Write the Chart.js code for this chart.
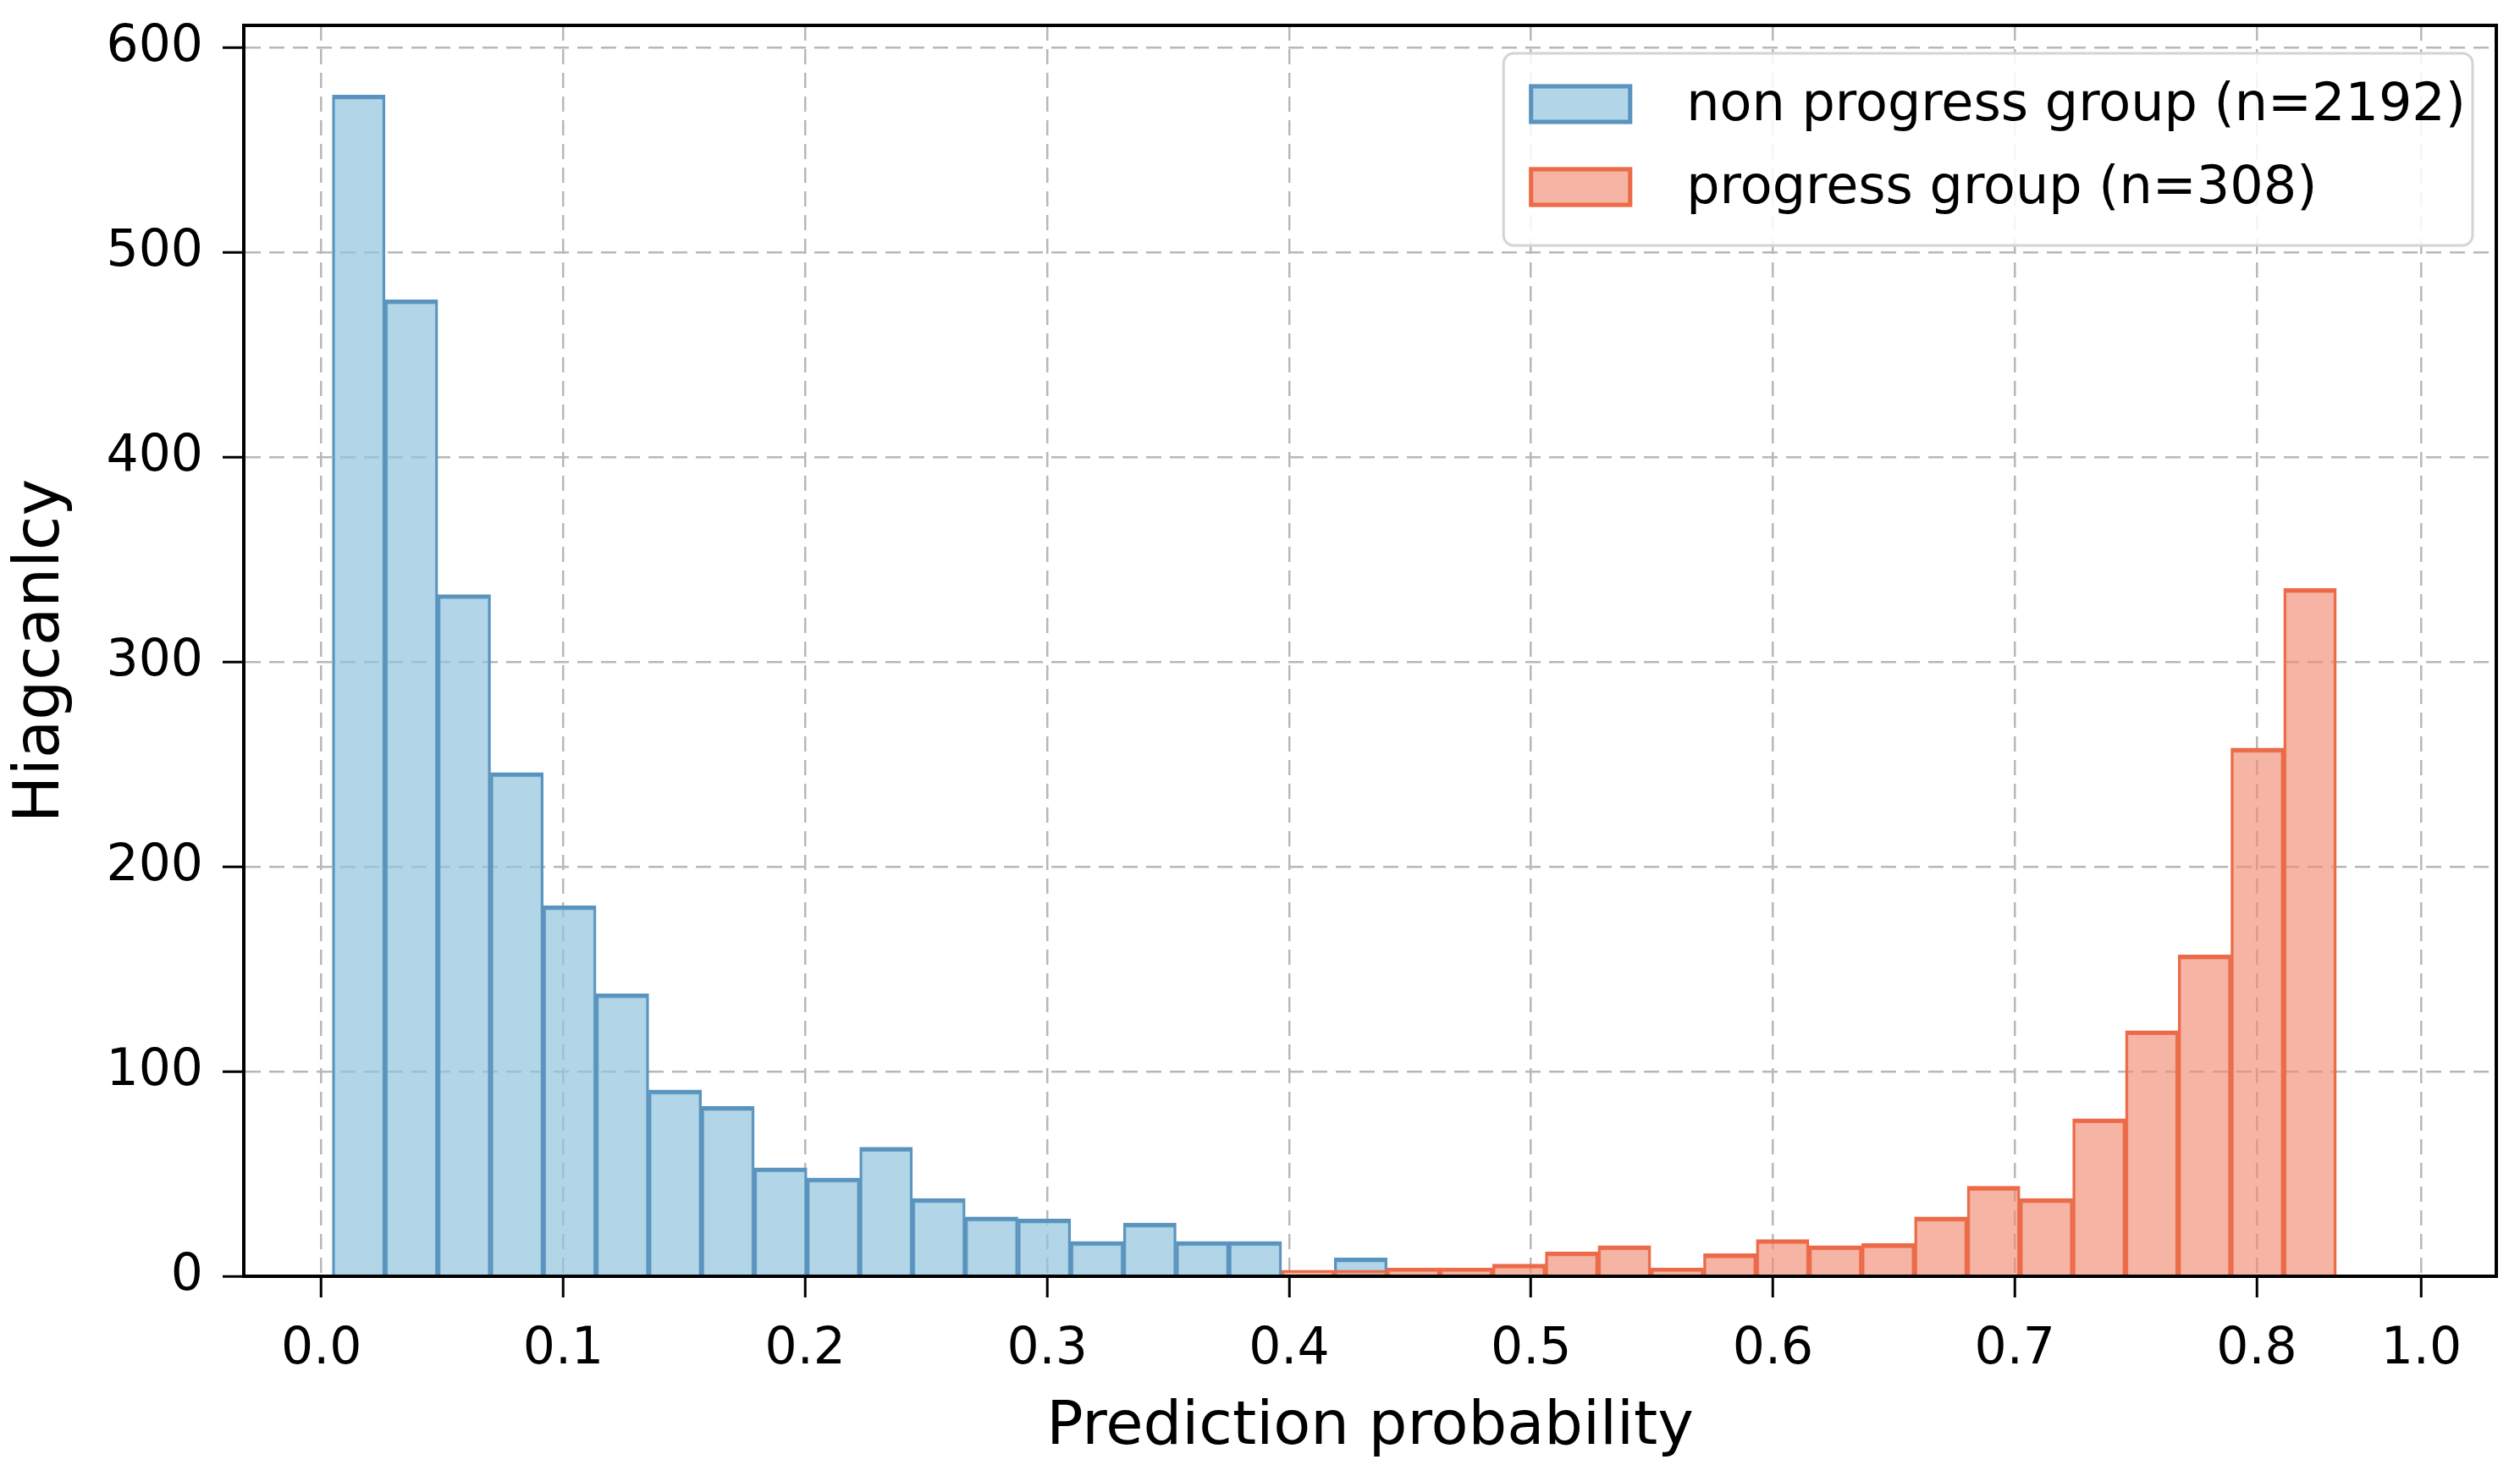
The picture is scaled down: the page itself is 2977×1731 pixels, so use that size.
<!DOCTYPE html>
<html>
<head>
<meta charset="utf-8">
<script src="https://cdn.jsdelivr.net/npm/chart.js@4.4.0/dist/chart.umd.min.js"></script>
<style>
  html, body { margin: 0; padding: 0; background: #fff; }
  canvas { display: block; }
</style>
</head>
<body>
<canvas id="hist" width="2977" height="1731" style="width:2977px;height:1731px"></canvas>
<script>
// shared histogram bins
const binStart = 0.0045;
const binWidth = 0.0218;

// counts per bin
const nonProgressCounts = [577, 477, 333, 246, 181, 138, 91, 83, 53, 48, 63, 38, 29, 28, 17, 26, 17, 17, 0, 9,
  0, 0, 0, 0, 0, 0, 0, 0, 0, 0, 0, 0, 0, 0, 0, 0, 0, 0];
const progressCounts = [0, 0, 0, 0, 0, 0, 0, 0, 0, 0, 0, 0, 0, 0, 0, 0, 0, 0, 3, 3,
  4, 4, 6, 12, 15, 4, 11, 18, 15, 16, 29, 44, 38, 77, 120, 157, 258, 336];

const seriesLabels = ['non progress group (n=2192)', 'progress group (n=308)'];

// the last tick label sits where the picture puts it
const xTickValues = [0, 0.1, 0.2, 0.3, 0.4, 0.5, 0.6, 0.7, 0.8, 0.868];
const xTickLabels = ['0.0', '0.1', '0.2', '0.3', '0.4', '0.5', '0.6', '0.7', '0.8', '1.0'];
const yTickValues = [0, 100, 200, 300, 400, 500, 600];

const binCenters = nonProgressCounts.map((_, i) => binStart + (i + 0.5) * binWidth);

Chart.defaults.font.family = "'DejaVu Sans'";
Chart.defaults.color = '#000';

const boxLegend = {
    id: 'boxLegend',
    afterDatasetsDraw(chart) {
        const { ctx, chartArea: ca } = chart;
        ctx.save();
        // axes frame
        ctx.strokeStyle = '#000';
        ctx.lineWidth = 4;
        ctx.strokeRect(ca.left, ca.top, ca.right - ca.left, ca.bottom - ca.top);

        // legend box top right
        ctx.font = "62px 'DejaVu Sans'";
        const textW = Math.max(...chart.data.datasets.map(d => ctx.measureText(d.label).width));
        const right = ca.right - 28, top = ca.top + 33, bottom = ca.top + 260;
        const textX = right - 8 - textW;
        const patchX = textX - 186;
        const left = patchX - 30;
        ctx.beginPath();
        ctx.roundRect(left, top, right - left, bottom - top, 12);
        ctx.fillStyle = 'rgba(255,255,255,0.85)';
        ctx.fill();
        ctx.strokeStyle = '#d4d4d4';
        ctx.lineWidth = 3;
        ctx.stroke();

        chart.data.datasets.forEach((d, i) => {
            const cy = ca.top + 93 + i * 98;
            ctx.fillStyle = d.backgroundColor;
            ctx.fillRect(patchX, cy - 23.5, 122, 47);
            ctx.strokeStyle = d.borderColor;
            ctx.lineWidth = 5;
            ctx.strokeRect(patchX + 2.5, cy - 21, 117, 42);
            ctx.fillStyle = '#000';
            ctx.textAlign = 'left';
            ctx.textBaseline = 'middle';
            ctx.fillText(d.label, textX, cy + 3);
        });
        ctx.restore();
    }
};

const gridStyle = { color: '#b8b8b8', lineWidth: 2.5, tickLength: 25, tickColor: '#000', tickWidth: 3, offset: false };
const borderStyle = { color: '#000', width: 4, dash: [18, 10] };

new Chart(document.getElementById('hist'), {
    type: 'bar',
    data: {
        datasets: [
            {
                label: seriesLabels[0],
                data: binCenters.map((x, i) => ({ x, y: nonProgressCounts[i] })),
                backgroundColor: 'rgba(145,195,222,0.7)',
                borderColor: '#5a94be',
                borderWidth: { top: 5, left: 3, right: 3, bottom: 0 },
                order: 1
            },
            {
                label: seriesLabels[1],
                data: binCenters.map((x, i) => ({ x, y: progressCounts[i] })),
                backgroundColor: 'rgba(240,140,115,0.65)',
                borderColor: '#ec6a48',
                borderWidth: { top: 5, left: 3, right: 3, bottom: 0 },
                order: 0
            }
        ]
    },
    options: {
        responsive: false,
        animation: false,
        devicePixelRatio: 1,
        grouped: false,
        barPercentage: 1,
        categoryPercentage: 1,
        layout: { padding: { top: 30, right: 28, left: 0, bottom: 0 } },
        plugins: { legend: { display: false }, tooltip: { enabled: false } },
        scales: {
            x: {
                type: 'linear',
                offset: false,
                min: -0.0321,
                max: 0.899,
                afterBuildTicks: s => { s.ticks = xTickValues.map(v => ({ value: v })); },
                afterFit: s => { s.height = 223; s.paddingLeft = 0; s.paddingRight = 0; },
                ticks: {
                    callback: (v, i) => xTickLabels[i],
                    font: { size: 60 },
                    padding: 26,
                    maxRotation: 0,
                    autoSkip: false
                },
                grid: gridStyle,
                border: borderStyle,
                title: { display: true, text: 'Prediction probability', font: { size: 72 }, padding: { top: 0, bottom: 1 } }
            },
            y: {
                min: 0,
                max: 611,
                afterBuildTicks: s => { s.ticks = yTickValues.map(v => ({ value: v })); },
                afterFit: s => { s.width = 288; s.paddingTop = 0; s.paddingBottom = 0; },
                ticks: { font: { size: 60 }, padding: 23 },
                grid: gridStyle,
                border: borderStyle,
                title: { display: true, text: 'Hiagcanlcy', font: { size: 74 }, padding: { top: 5, bottom: 0 } }
            }
        }
    },
    plugins: [boxLegend]
});
</script>
</body>
</html>
